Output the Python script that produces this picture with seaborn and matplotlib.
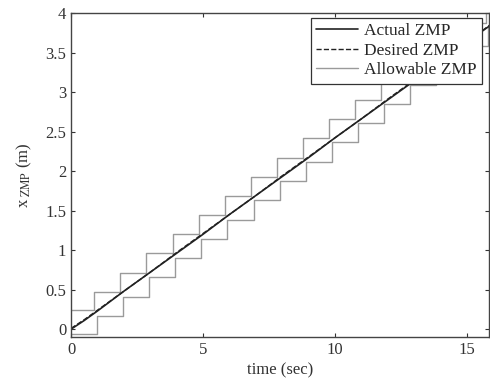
import numpy as np
import pandas as pd
import matplotlib
matplotlib.use("Agg")
import matplotlib.pyplot as plt
import seaborn as sns

# ── data ────────────────────────────────────────────────────
# allowable ZMP band (staircase, steps-post)
upper_t = [0, 0.88, 1.87, 2.86, 3.85, 4.84, 5.83, 6.82, 7.81, 8.80,
           9.79, 10.78, 11.77, 12.76, 13.75, 14.74, 15.73, 16.0]
upper_x = [0.24, 0.47, 0.71, 0.96, 1.21, 1.45, 1.69, 1.93, 2.17, 2.42,
           2.66, 2.90, 3.14, 3.38, 3.63, 3.87, 4.11, 4.11]
lower_t = [0, 0.98, 1.97, 2.96, 3.95, 4.94, 5.93, 6.92, 7.91, 8.90,
           9.89, 10.88, 11.87, 12.86, 13.85, 14.84, 15.83, 16.0]
lower_x = [-0.06, 0.17, 0.41, 0.66, 0.90, 1.14, 1.38, 1.63, 1.88, 2.12,
           2.37, 2.61, 2.85, 3.09, 3.34, 3.58, 3.82, 3.82]

# actual / desired ZMP trajectory
zmp_t    = [0, 0.5, 1, 2, 3, 4, 5, 6, 7, 8, 9, 10, 11, 12, 13, 14, 15, 16]
actual   = [0.0, 0.11, 0.23, 0.48, 0.72, 0.96, 1.20, 1.45, 1.69, 1.93,
            2.17, 2.42, 2.66, 2.90, 3.14, 3.39, 3.63, 3.87]
desired  = [0.01, 0.12, 0.24, 0.48, 0.72, 0.97, 1.21, 1.45, 1.69, 1.94,
            2.18, 2.42, 2.66, 2.91, 3.15, 3.39, 3.63, 3.88]

x_ticks = [0, 5, 10, 15]
y_ticks = [0, 0.5, 1, 1.5, 2, 2.5, 3, 3.5, 4]
y_tick_labels = ["0", "0.5", "1", "1.5", "2", "2.5", "3", "3.5", "4"]

# ── style ───────────────────────────────────────────────────
sns.set_style("ticks")
plt.rcParams["font.family"] = ["Liberation Serif", "DejaVu Serif"]
plt.rcParams["mathtext.fontset"] = "stix"

fig = plt.figure(figsize=(4.9, 3.87), dpi=100)
ax = fig.add_axes([0.145, 0.129, 0.853, 0.837])

gray = "#9a9a9a"
sns.lineplot(x=upper_t, y=upper_x, ax=ax, color=gray, lw=1.0,
             drawstyle="steps-post", label="Allowable ZMP")
sns.lineplot(x=lower_t, y=lower_x, ax=ax, color=gray, lw=1.0,
             drawstyle="steps-post")
sns.lineplot(x=zmp_t, y=desired, ax=ax, color="#222222", lw=1.0,
             linestyle="--", label="Desired ZMP")
sns.lineplot(x=zmp_t, y=actual, ax=ax, color="#222222", lw=1.2,
             label="Actual ZMP")

ax.set_xlim(0, 15.85)
ax.set_ylim(-0.1, 4)
ax.set_xticks(x_ticks)
ax.set_yticks(y_ticks)
ax.set_yticklabels(y_tick_labels)
ax.tick_params(direction="in", length=3, width=0.8, labelsize=12,
               top=True, right=True, colors="#333333")
for s in ax.spines.values():
    s.set_visible(True)
    s.set_color("#444444")
    s.set_linewidth(1.0)

ax.set_xlabel("time (sec)", fontsize=12, color="#333333", labelpad=3)
ax.set_ylabel(r"x$_{\ \rm ZMP}$ (m)", fontsize=12, color="#333333", labelpad=8)

# legend order: actual, desired, allowable
h, l = ax.get_legend_handles_labels()
order = [l.index("Actual ZMP"), l.index("Desired ZMP"), l.index("Allowable ZMP")]
leg = ax.legend([h[i] for i in order], [l[i] for i in order],
                loc="upper right", bbox_to_anchor=(0.984, 0.986),
                fontsize=12.5, frameon=True, fancybox=False, framealpha=1,
                edgecolor="#333333", handlelength=2.4, borderpad=0.3,
                labelspacing=0.2, handletextpad=0.4, borderaxespad=0.0)
leg.get_frame().set_linewidth(0.9)

plt.savefig("out.png", dpi=100)
plt.close()
